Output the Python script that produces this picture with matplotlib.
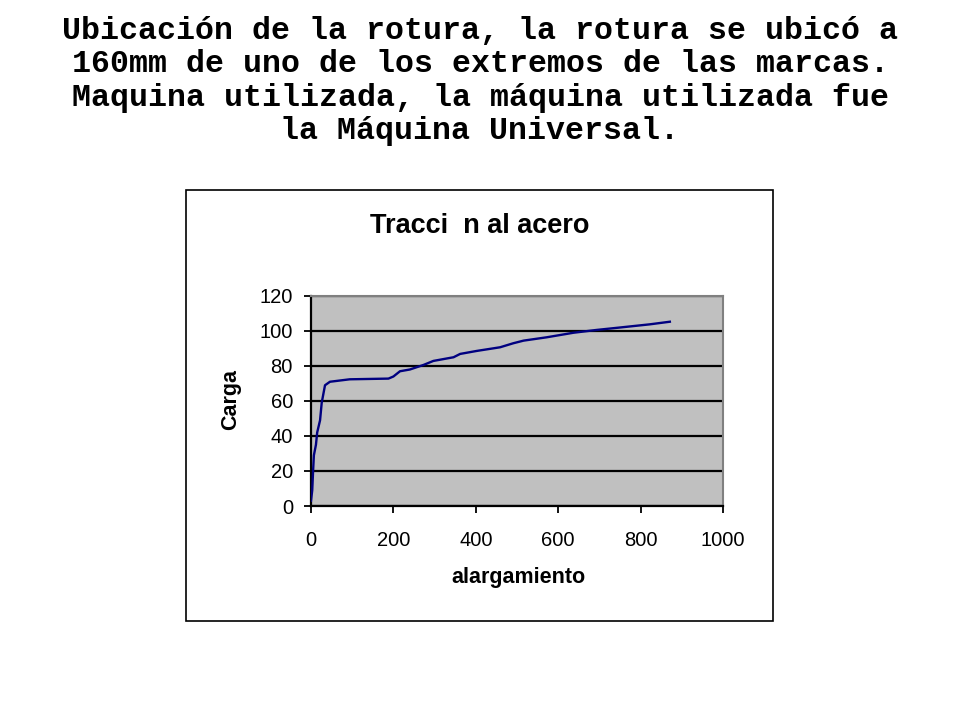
import matplotlib
matplotlib.use("Agg")
import matplotlib.pyplot as plt
from matplotlib.patches import Rectangle

# Heading lines above the chart
heading = [
    "Ubicación de la rotura, la rotura se ubicó a",
    "160mm de uno de los extremos de las marcas.",
    "Maquina utilizada, la máquina utilizada fue",
    "la Máquina Universal.",
]

# Load vs. elongation curve
alargamiento = [0, 3, 5, 7, 12, 15, 22, 26, 30, 34, 46, 94, 188, 200, 216, 240,
                273, 297, 346, 362, 402, 459, 491, 516, 572, 637, 693, 750,
                790, 822, 871]
carga = [3, 9, 19.6, 29, 35, 42, 49, 59, 64, 69, 71, 72.4, 72.8, 74, 77, 78,
         80.6, 82.9, 85, 86.9, 88.6, 90.7, 93, 94.5, 96.4, 99, 100.6, 102,
         103, 103.8, 105.3]

x_ticks = [0, 200, 400, 600, 800, 1000]
y_ticks = [0, 20, 40, 60, 80, 100, 120]

fig = plt.figure(figsize=(9.6, 7.2), dpi=100)

for i, line in enumerate(heading):
    fig.text(0.5, 1 - (31 + 33.3 * i) / 720, line, ha="center", va="center",
             fontsize=22.8, fontweight="bold", family="Liberation Mono")

# chart frame
fig.patches.append(Rectangle((186 / 960, 1 - 621 / 720), 587 / 960, 431 / 720,
                             transform=fig.transFigure, fill=False,
                             edgecolor="black", linewidth=1.2))

ax = fig.add_axes([311 / 960, 1 - 506 / 720, 412 / 960, 210 / 720])
ax.set_facecolor("#c0c0c0")
ax.plot(alargamiento, carga, color="#000080", linewidth=1.7, zorder=3)

ax.set_xlim(0, 1000)
ax.set_ylim(0, 120)
ax.set_xticks(x_ticks)
ax.set_yticks(y_ticks)
ax.yaxis.grid(True, color="black", linewidth=1.6)
ax.set_axisbelow(True)

for side in ("top", "right"):
    ax.spines[side].set_color("#808080")
    ax.spines[side].set_linewidth(1.5)
for side in ("left", "bottom"):
    ax.spines[side].set_color("black")
    ax.spines[side].set_linewidth(1.6)

ax.tick_params(axis="x", direction="out", length=5, width=1.3, pad=13,
               labelsize=14.5)
ax.tick_params(axis="y", direction="out", length=5, width=1.3, pad=8,
               labelsize=14.5)
for lbl in ax.get_xticklabels() + ax.get_yticklabels():
    lbl.set_family("Liberation Sans")

fig.text(480 / 960, 1 - 226 / 720, "Tracci  n al acero", ha="center",
         va="center", fontsize=19.5, fontweight="bold", family="Liberation Sans")
fig.text(231 / 960, 1 - 400 / 720, "Carga", ha="center", va="center",
         rotation=90, fontsize=15.5, fontweight="bold", family="Liberation Sans")
fig.text(518 / 960, 1 - 577 / 720, "alargamiento", ha="center", va="center",
         fontsize=15.5, fontweight="bold", family="Liberation Sans")

fig.savefig("out.png", dpi=100)
plt.close(fig)
